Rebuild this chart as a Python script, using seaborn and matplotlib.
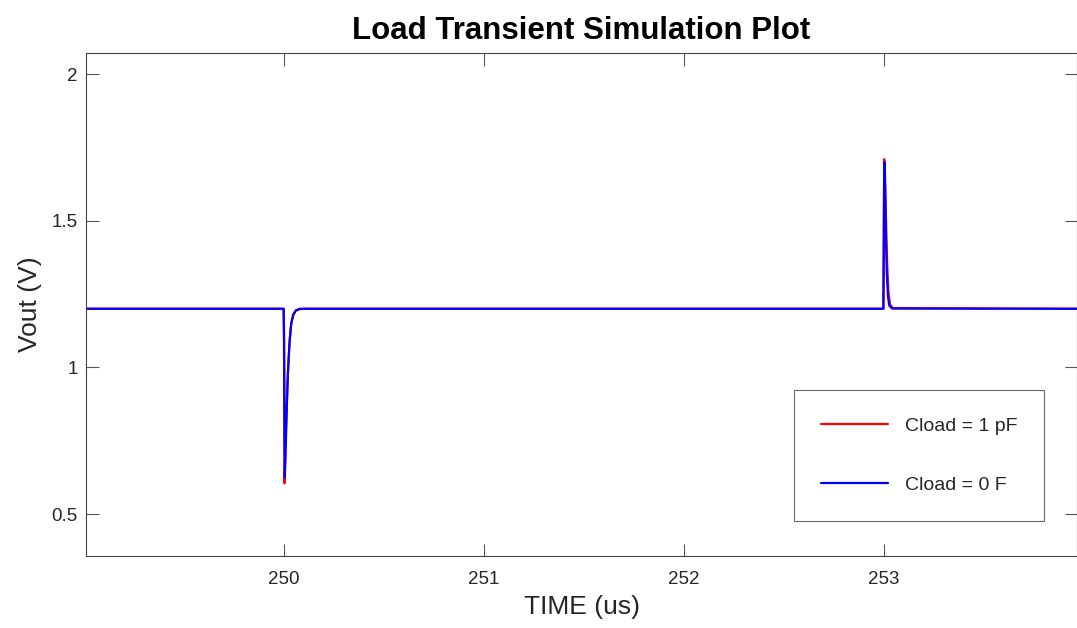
import matplotlib
matplotlib.use("Agg")
import matplotlib.pyplot as plt
import seaborn as sns
import pandas as pd

# Cload = 1 pF (red)
time_1pF = [249.0, 249.998, 250.000, 250.002, 250.006, 250.012, 250.018, 250.026, 250.034,
            250.044, 250.058, 250.080, 250.120, 252.997, 252.999, 253.001, 253.004, 253.008,
            253.012, 253.016, 253.022, 253.030, 253.045, 253.97]
vout_1pF = [1.200, 1.200, 1.100, 0.605, 0.70, 0.84, 0.96, 1.07, 1.14,
            1.175, 1.193, 1.199, 1.200, 1.200, 1.45, 1.710, 1.69, 1.57,
            1.45, 1.35, 1.26, 1.215, 1.202, 1.200]

# Cload = 0 F (blue)
time_0F = [249.0, 249.998, 250.000, 250.004, 250.008, 250.014, 250.020, 250.028, 250.036,
           250.046, 250.060, 250.080, 250.120, 252.997, 252.999, 253.001, 253.003, 253.007,
           253.010, 253.014, 253.020, 253.027, 253.040, 253.97]
vout_0F = [1.200, 1.200, 1.100, 0.625, 0.72, 0.87, 0.99, 1.09, 1.15,
           1.18, 1.195, 1.200, 1.200, 1.200, 1.45, 1.700, 1.69, 1.55,
           1.43, 1.32, 1.24, 1.21, 1.201, 1.200]

labels = ["Cload = 1 pF", "Cload = 0 F"]
colors = ["#ff0000", "#0000ff"]
x_ticks = [250, 251, 252, 253]
y_ticks = [0.5, 1.0, 1.5, 2.0]
y_ticklabels = ["0.5", "1", "1.5", "2"]

df = pd.concat([
    pd.DataFrame({"time": time_1pF, "vout": vout_1pF, "series": labels[0]}),
    pd.DataFrame({"time": time_0F, "vout": vout_0F, "series": labels[1]}),
], ignore_index=True)

sns.set_style("white")
plt.rcParams["font.family"] = ["Liberation Sans", "DejaVu Sans"]

fig = plt.figure(figsize=(10.77, 6.28), dpi=100)
ax = fig.add_axes([0.0799, 0.1146, 0.9201, 0.801])

sns.lineplot(data=df, x="time", y="vout", hue="series", hue_order=labels,
             palette=colors, linewidth=1.6, sort=False, estimator=None, ax=ax)

ax.set_xlim(249.01, 253.965)
ax.set_ylim(0.357, 2.072)
ax.set_xticks(x_ticks)
ax.set_xticklabels([str(t) for t in x_ticks])
ax.set_yticks(y_ticks)
ax.set_yticklabels(y_ticklabels)

ax.tick_params(direction="in", length=9, width=0.8, color="#555555",
               top=True, right=True, bottom=True, left=True,
               labelsize=13.5, labelcolor="#262626")
ax.tick_params(axis="x", pad=11)
ax.tick_params(axis="y", pad=6)
for s in ax.spines.values():
    s.set_visible(True)
    s.set_color("#444444")
    s.set_linewidth(0.8)

ax.set_xlabel("TIME (us)", fontsize=19, color="#262626", labelpad=5)
ax.set_ylabel("Vout (V)", fontsize=19, color="#262626", labelpad=7)
ax.set_title("Load Transient Simulation Plot", fontsize=22.5, fontweight="bold",
             color="black", pad=10)

leg = ax.legend(loc="lower right", bbox_to_anchor=(0.9667, 0.0696), fontsize=14,
                frameon=True, fancybox=False, handlelength=3.45, handletextpad=0.85,
                labelspacing=2.15, borderpad=1.38, borderaxespad=0)
leg.get_frame().set_edgecolor("#444444")
leg.get_frame().set_linewidth(0.8)
for line in leg.get_lines():
    line.set_linewidth(1.6)

fig.savefig("out.png", dpi=100)
